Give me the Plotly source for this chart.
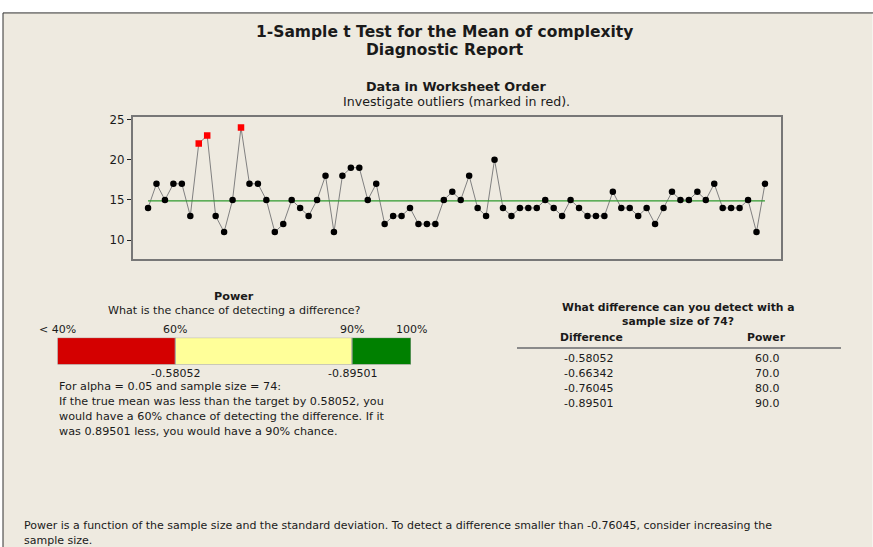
import numpy as np
import plotly.graph_objects as go

# ---------------- data ----------------
complexity = [14, 17, 15, 17, 17, 13, 22, 23, 13, 11,
              15, 24, 17, 17, 15, 11, 12, 15, 14, 13,
              15, 18, 11, 18, 19, 19, 15, 17, 12, 13,
              13, 14, 12, 12, 12, 15, 16, 15, 18, 14,
              13, 20, 14, 13, 14, 14, 14, 15, 14, 13,
              15, 14, 13, 13, 13, 16, 14, 14, 13, 14,
              12, 14, 16, 15, 15, 16, 15, 17, 14, 14,
              14, 15, 11, 17]
outlier_idx = [7, 8, 12]            # 1-based worksheet rows marked in red
power_bounds = [40, 60, 90, 100]    # power bar segment boundaries (%)
power_labels = ["< 40%", "60%", "90%", "100%"]
power_colors = ["#D40000", "#FFFF99", "#008000"]
table_power = [60.0, 70.0, 80.0, 90.0]
table_diff = [-0.58052, -0.66342, -0.76045, -0.89501]
alpha = 0.05
yticks = [10, 15, 20, 25]

W, H = 873, 547
FONT = "DejaVu Sans"
BG = "#EEEAE0"


def px(x):
    return x / W


def py(y):
    # small vertical correction observed in the rendered output
    yy = y - 3.5 * (530 - y) / 518.0
    return 1 - yy / H


n = len(complexity)
obs = list(range(1, n + 1))
mean_val = float(np.mean(complexity))
normal_x = [i for i in obs if i not in outlier_idx]
normal_y = [complexity[i - 1] for i in normal_x]
out_y = [complexity[i - 1] for i in outlier_idx]

fig = go.Figure()

# connecting line
fig.add_trace(go.Scatter(x=obs, y=complexity, mode="lines",
                         line=dict(color="#808080", width=1),
                         hoverinfo="skip", showlegend=False))
# mean line
fig.add_trace(go.Scatter(x=[obs[0], obs[-1]], y=[mean_val, mean_val], mode="lines",
                         line=dict(color="#2E9A2E", width=1.3),
                         hoverinfo="skip", showlegend=False))
# normal points
fig.add_trace(go.Scatter(x=normal_x, y=normal_y, mode="markers",
                         marker=dict(color="black", size=6.5, symbol="circle"),
                         showlegend=False))
# outliers
fig.add_trace(go.Scatter(x=outlier_idx, y=out_y, mode="markers",
                         marker=dict(color="#FF0000", size=6.5, symbol="square"),
                         showlegend=False))

# power bar
starts = power_bounds[:-1]
widths = [power_bounds[i + 1] - power_bounds[i] for i in range(len(starts))]
fig.add_trace(go.Bar(x=widths, base=starts, y=[0] * len(starts), orientation="h",
                     width=1, marker=dict(color=power_colors,
                                          line=dict(color="#A0A0A0", width=1)),
                     xaxis="x2", yaxis="y2", showlegend=False, hoverinfo="skip"))

shapes = [
    dict(type="rect", xref="paper", yref="paper", x0=px(3), x1=px(872.5),
         y0=-0.01, y1=py(11.5), fillcolor=BG, line=dict(width=0), layer="below"),
    dict(type="line", xref="paper", yref="paper", x0=px(3), x1=px(873),
         y0=py(11.5), y1=py(11.5), line=dict(color="#303030", width=1)),
    dict(type="line", xref="paper", yref="paper", x0=px(3), x1=px(3),
         y0=py(11.5), y1=-0.01, line=dict(color="#303030", width=1)),
    # table rule
    dict(type="line", xref="paper", yref="paper", x0=px(517), x1=px(841),
         y0=py(347.5), y1=py(347.5), line=dict(color="#8A8A8A", width=2)),
]

ann = []


def text(x, y, s, size=11.4, bold=False, xanchor="left", xref="paper", color="#1A1A1A"):
    ann.append(dict(x=x if xref != "paper" else px(x), y=py(y), xref=xref, yref="paper",
                    text=("<b>%s</b>" % s) if bold else s, showarrow=False,
                    xanchor=xanchor, yanchor="middle",
                    font=dict(family=FONT, size=size, color=color)))


# titles
text(445, 31, "1-Sample t Test for the Mean of complexity", size=15.5, bold=True, xanchor="center")
text(445, 49, "Diagnostic Report", size=15.5, bold=True, xanchor="center")
text(456, 85, "Data in Worksheet Order", size=12.8, bold=True, xanchor="center")
text(456, 100, "Investigate outliers (marked in red).", size=12.6, xanchor="center")

# power section
text(234, 296, "Power", size=11.2, bold=True, xanchor="center")
text(234, 310, "What is the chance of detecting a difference?", size=11.1, xanchor="center")
for b, lab in zip(power_bounds, power_labels):
    text(b, 329, lab, size=11, xanchor="center", xref="x2")
text(power_bounds[1], 373, "%.5f" % table_diff[0], size=11, xanchor="center", xref="x2")
text(power_bounds[2], 373, "%.5f" % table_diff[-1], size=11, xanchor="center", xref="x2")

body = [
    "For alpha = %g and sample size = %d:" % (alpha, n),
    "If the true mean was less than the target by %.5f, you" % abs(table_diff[0]),
    "would have a %d%% chance of detecting the difference. If it" % table_power[0],
    "was %.5f less, you would have a %d%% chance." % (abs(table_diff[-1]), table_power[-1]),
]
for i, line in enumerate(body):
    text(57, 386 + 15 * i, line, size=11.2)

# table
text(678, 307, "What difference can you detect with a", size=10.8, bold=True, xanchor="center")
text(678, 321, "sample size of %d?" % n, size=10.8, bold=True, xanchor="center")
text(558, 337, "Difference", size=10.8, bold=True)
text(766, 337, "Power", size=10.8, bold=True, xanchor="center")
for i, (d, p) in enumerate(zip(table_diff, table_power)):
    text(562, 358 + 15 * i, "%.5f" % d, size=11)
    text(767, 358 + 15 * i, "%.1f" % p, size=11, xanchor="center")

# footer
text(22, 525, "Power is a function of the sample size and the standard deviation. "
              "To detect a difference smaller than %.5f, consider increasing the" % table_diff[2], size=11.0)
text(22, 540, "sample size.", size=11.0)

fig.update_layout(
    width=W, height=H, autosize=False,
    margin=dict(l=0, r=0, t=0, b=0),
    paper_bgcolor="white", plot_bgcolor="white",
    barmode="overlay",
    shapes=shapes, annotations=ann,
    xaxis=dict(domain=[px(133), px(781)], range=[-0.78, 75.9],
               showgrid=False, zeroline=False, showticklabels=False, ticks="",
               showline=True, linecolor="#777777", linewidth=2, mirror=True),
    yaxis=dict(domain=[py(258), py(116)], range=[7.68, 25.28],
               tickvals=yticks, ticks="outside", ticklen=4, tickcolor="#222222",
               showgrid=False, zeroline=False,
               tickfont=dict(family=FONT, size=11.8, color="#1A1A1A"),
               showline=True, linecolor="#777777", linewidth=2, mirror=True),
    xaxis2=dict(domain=[px(57.5), px(411)], range=[power_bounds[0], power_bounds[-1]],
                visible=False, anchor="y2"),
    yaxis2=dict(domain=[py(364), py(337)], range=[-0.5, 0.5], visible=False, anchor="x2"),
    showlegend=False,
)

fig.write_html(
    "out.html",
    config={"displayModeBar": False},
    post_script=(
        "var de=document.documentElement, b=document.body;"
        "de.style.margin='0';de.style.padding='0';de.style.overflow='hidden';de.style.height='547px';"
        "b.style.margin='0';b.style.padding='0';b.style.overflow='hidden';b.style.height='547px';"
        "var d=document.getElementById('{plot_id}');"
        "d.style.position='fixed';d.style.top='0px';d.style.left='0px';"
    ),
)
